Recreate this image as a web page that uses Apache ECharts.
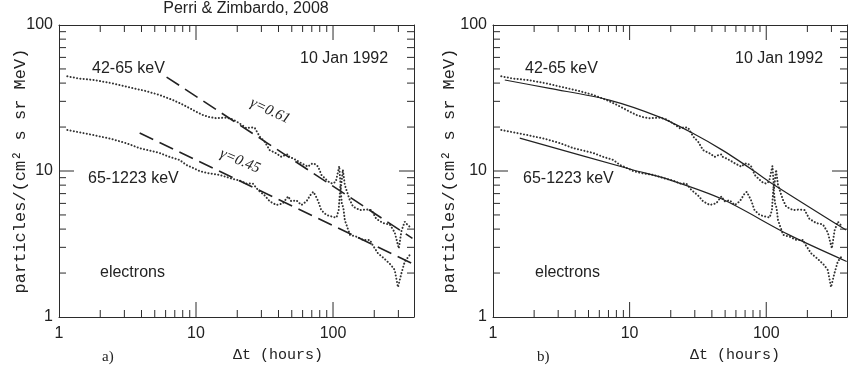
<!DOCTYPE html>
<html lang="en">
<head>
<meta charset="UTF-8">
<title>Perri & Zimbardo, 2008</title>
<script src="https://cdn.jsdelivr.net/npm/echarts@6/dist/echarts.min.js"></script>
</head>
<body style="margin: 0; background: #fff;">
<div id="container" style="width: 850px; height: 370px;"></div>
<script type="text/javascript">

    // time lag (hours) vs flux
    const lowEnergy = [
        [1.15, 44.5], [1.4, 43], [1.8, 42], [2.4, 40], [3.1, 37.8], [4.2, 35.5], [5.4, 33.2],
        [6.8, 30.6], [8, 28.5], [9, 26.9], [10, 25.5], [11.2, 24.2], [12.5, 23.4], [14, 23],
        [16.6, 23.2], [18.5, 22.6], [20.8, 21.2], [23.4, 19.6], [25, 19.9], [26.8, 19.8],
        [29.2, 17.2], [31.7, 15.9], [34.5, 13.9], [38.6, 13.2], [42, 12.5], [45, 12.9],
        [47, 13.0], [48, 12.5], [51, 12.2], [54.5, 11.8], [58.8, 11.3], [65.7, 10.7],
        [68.5, 11.1], [71.6, 11.3], [74.5, 11.1], [77.9, 10.7], [82.3, 9.4], [89.5, 8.7],
        [95, 8.3], [100, 8.2], [105, 8.5], [111, 10.8], [114, 7.6], [118, 10.2], [122, 8.0],
        [126, 7.8], [132, 6.4], [140, 5.7], [157, 5.4], [175, 5.45], [191, 5.4], [207, 4.7],
        [232, 4.4], [260, 4.3], [282, 3.8], [302, 2.95], [316, 3.9], [334, 4.5], [348, 4.3],
        [363, 4.15]
    ];
    const highEnergy = [
        [1.15, 19.1], [1.8, 17.6], [2.4, 16.6], [3.1, 15.5], [3.9, 14.3], [5.4, 13.3],
        [6.4, 12.5], [7.6, 11.9], [8.5, 11], [9.5, 10.5], [10.6, 10], [12, 9.7], [14.9, 9.4],
        [18, 8.9], [20.8, 8.6], [23.4, 8.2], [26, 8.2], [28.4, 7.4], [31.7, 6.8], [34.5, 6.2],
        [38.6, 5.85], [43, 6.0], [47, 6.7], [49.6, 6.2], [54, 6.3], [58.8, 5.85], [64, 6.2],
        [69.4, 7.0], [72, 7.2], [75, 6.7], [78, 6.2], [82, 5.4], [89.5, 5.0], [100, 4.85],
        [106, 4.8], [110, 5.4], [113, 7.8], [116, 6.0], [119, 5.6], [122, 4.6], [133, 3.65],
        [148, 3.55], [166, 3.37], [186, 3.37], [195, 3.1], [213, 2.73], [238, 2.5],
        [265, 2.27], [282, 2.1], [298, 1.6], [316, 2.0], [334, 2.4], [363, 2.66]
    ];

    // power law fits (panel a), end points of the dashed lines
    const fitLow = [[6.1, 44], [380, 3.46]];
    const fitHigh = [[3.88, 18.2], [373, 2.34]];

    // model curves (panel b)
    const modelLow = [[1.22, 42], [2.6, 36.8], [7.1, 30.6], [16.6, 23.4], [28.8, 18.2],
        [47.7, 13.9], [79, 10.2], [105, 8.45], [384, 3.94]];
    const modelHigh = [[1.57, 16.8], [10.5, 10.2], [19.6, 8.7], [47.9, 6.4], [147, 3.65],
        [388, 2.4]];

    // tick positions
    const xMajor = [10, 100];
    const yMajor = [10];
    const xMinor = [2, 3, 4, 5, 6, 7, 8, 9, 20, 30, 40, 50, 60, 70, 80, 90, 200, 300];
    const yMinor = [2, 3, 4, 5, 6, 7, 8, 9, 20, 30, 40, 50, 60, 70, 80, 90];

    const T_MAX = 390;
    const F_MIN = 1, F_MAX = 100;
    const INK = '#2b2b2b';

    function decade(v) {
        let l = Math.log10(v);
        return Math.abs(l - Math.round(l)) < 1e-6 ? String(Math.round(v)) : '';
    }

    function axisBase(g, min, max) {
        return {
            type: 'log', min: min, max: max, gridIndex: g,
            axisLine: {show: true, lineStyle: {color: INK, width: 1}},
            axisTick: {show: false},
            splitLine: {show: false}
        };
    }

    function xAxes(g) {
        let bottom = axisBase(g, 1, T_MAX);
        bottom.position = 'bottom';
        bottom.axisLabel = {formatter: decade, margin: 9, fontSize: 16, fontFamily: 'Liberation Sans', color: '#222'};
        let top = axisBase(g, 1, T_MAX);
        top.position = 'top';
        top.axisLabel = {show: false};
        return [bottom, top];
    }

    function yAxes(g, gap) {
        let left = axisBase(g, F_MIN, F_MAX);
        left.position = 'left';
        left.name = 'particles/(cm\u00b2 s sr MeV)';
        left.nameLocation = 'middle';
        left.nameGap = gap;
        left.nameRotate = 90;
        left.nameMoveOverlap = false;
        left.nameTextStyle = {fontFamily: 'Liberation Mono', fontSize: 17, color: '#222'};
        left.axisLabel = {formatter: decade, margin: 6, fontSize: 16, fontFamily: 'Liberation Sans', color: '#222'};
        let right = axisBase(g, F_MIN, F_MAX);
        right.position = 'right';
        right.axisLabel = {show: false};
        return [left, right];
    }

    function curve(data, g, style) {
        return {
            type: 'line', data: data, xAxisIndex: 2 * g, yAxisIndex: 2 * g,
            symbol: 'none', silent: true, lineStyle: style
        };
    }

    function dotted() { return {color: '#333', width: 2, type: [0.1, 3.2], cap: 'round'}; }
    function dashed() { return {color: '#222', width: 1.6, type: [15, 7]}; }
    function solid() { return {color: '#222', width: 1.2}; }

    function label(x, y, text, extra) {
        let style = {text: text, verticalAlign: 'middle', fontFamily: 'Liberation Sans',
            fontSize: 16, fill: '#222'};
        return {type: 'text', x: x, y: y, style: Object.assign(style, extra || {})};
    }

    function gammaLabel(x, y, rot, text) {
        return {type: 'text', x: x, y: y, rotation: rot,
            style: {text: text, fontFamily: 'Liberation Serif', fontStyle: 'italic',
                fontSize: 15, fill: '#222', align: 'center', verticalAlign: 'middle'}};
    }

    let graphic = [
        label(246, 9, 'Perri & Zimbardo, 2008', {align: 'center'}),
        // panel a
        label(92, 69, '42-65 keV'), label(88, 179, '65-1223 keV'),
        label(100, 273, 'electrons'), label(300, 59, '10 Jan 1992'),
        label(102, 357, 'a)', {fontFamily: 'Liberation Serif', fontSize: 15}),
        label(233, 355, '\u0394t (hours)', {fontFamily: 'Liberation Mono', fontSize: 15}),
        gammaLabel(270, 111, -0.44, '\u03b3=0.61'),
        gammaLabel(240, 161, -0.40, '\u03b3=0.45'),
        // panel b
        label(525, 69, '42-65 keV'), label(523, 179, '65-1223 keV'),
        label(535, 273, 'electrons'), label(735, 59, '10 Jan 1992'),
        label(537, 357, 'b)', {fontFamily: 'Liberation Serif', fontSize: 15}),
        label(690, 355, '\u0394t (hours)', {fontFamily: 'Liberation Mono', fontSize: 15})
    ];

    let curves = [
        curve(lowEnergy, 0, dotted()), curve(highEnergy, 0, dotted()),
        curve(fitLow, 0, dashed()), curve(fitHigh, 0, dashed()),
        curve(lowEnergy, 1, dotted()), curve(highEnergy, 1, dotted()),
        Object.assign(curve(modelLow, 1, solid()), {smooth: 0.3}),
        Object.assign(curve(modelHigh, 1, solid()), {smooth: 0.3})
    ];

    let chart = echarts.init(document.getElementById('container'));
    chart.setOption({
        animation: false,
        backgroundColor: '#fff',
        grid: [
            {left: 59, top: 25, width: 355, height: 292},
            {left: 493, top: 25, width: 354, height: 292}
        ],
        xAxis: xAxes(0).concat(xAxes(1)),
        yAxis: yAxes(0, 30).concat(yAxes(1, 35)),
        graphic: graphic,
        series: curves
    });

    // tick marks on all four sides as short two-point series;
    // the far end of each tick is found by going back through the axis scale
    function tickSeries(g, p0, dx, dy) {
        let finder = {xAxisIndex: 2 * g, yAxisIndex: 2 * g};
        let a = chart.convertToPixel(finder, p0);
        let end = chart.convertFromPixel(finder, [a[0] + dx, a[1] + dy]);
        let p1 = dx === 0 ? [p0[0], end[1]] : [end[0], p0[1]];
        return {
            type: 'line', data: [p0, p1], xAxisIndex: 2 * g, yAxisIndex: 2 * g,
            symbol: 'none', silent: true, clip: false, z: 5,
            lineStyle: {color: INK, width: 1}
        };
    }

    let ticks = [];
    [0, 1].forEach(function (g) {
        [[xMajor, 15], [xMinor, 7]].forEach(function (set) {
            set[0].forEach(function (v) {
                ticks.push(tickSeries(g, [v, F_MIN], 0, -set[1]));
                ticks.push(tickSeries(g, [v, F_MAX], 0, set[1]));
            });
        });
        [[yMajor, 15], [yMinor, 7]].forEach(function (set) {
            set[0].forEach(function (v) {
                ticks.push(tickSeries(g, [1, v], set[1], 0));
                ticks.push(tickSeries(g, [T_MAX, v], -set[1], 0));
            });
        });
    });
    chart.setOption({series: curves.concat(ticks)});

</script>
</body>
</html>
